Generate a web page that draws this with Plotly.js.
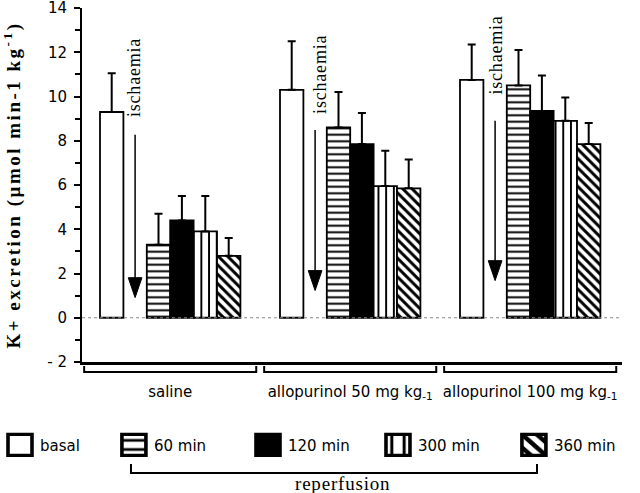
<!DOCTYPE html>
<html><head><meta charset="utf-8">
<script src="https://cdn.plot.ly/plotly-3.0.1.min.js"></script>
<style>
html,body{margin:0;padding:0;background:#fff;}
.ytitle{letter-spacing:2.5px;}
.annotation-text{letter-spacing:0.8px;}
.legendpoints path{transform:translate(20px,0px) scale(2,1.75);}
</style></head><body>
<div id="chart" style="width:640px;height:493px;"></div>
<script>
// ---- data ----
const groups = ['saline', 'allopurinol 50 mg kg<sub>-1</sub>', 'allopurinol 100 mg kg<sub>-1</sub>'];
const seriesNames = ['basal', '60 min', '120 min', '300 min', '360 min'];
const basal = [9.3, 10.3, 10.75];
const basalErr = [1.75, 2.2, 1.6];
const min60 = [3.3, 8.6, 10.5];
const min60Err = [1.4, 1.6, 1.6];
const min120 = [4.4, 7.85, 9.35];
const min120Err = [1.1, 1.4, 1.6];
const min300 = [3.9, 5.95, 8.9];
const min300Err = [1.6, 1.6, 1.05];
const min360 = [2.8, 5.85, 7.85];
const min360Err = [0.8, 1.3, 0.95];
const yTickVals = [-2, 0, 2, 4, 6, 8, 10, 12, 14];
const yTickText = ['- 2', '0', '2', '4', '6', '8', '10', '12', '14'];
const yMinorTicks = [-1, 1, 3, 5, 7, 9, 11, 13];
const ischaemiaLabel = 'ischaemia';
const reperfusionLabel = 'reperfusion';

// ---- styling ----
const slot = 0.13;          // width of one bar slot (category units)
const slotStart = -0.39;    // left edge of first slot
const values = [basal, min60, min120, min300, min360];
const errs = [basalErr, min60Err, min120Err, min300Err, min360Err];
const slotIndex = [0, 2, 3, 4, 5];
const legendIds = ['legend', 'legend2', 'legend3', 'legend4', 'legend5'];
const legendX = [0, 0.178, 0.3875, 0.5906, 0.803];
const styles = [
  {color: 'white', pattern: {shape: ''}},
  {color: 'white', pattern: {shape: '-', bgcolor: 'white', fgcolor: 'black', size: 6.5, solidity: 0.3, fillmode: 'replace'}},
  {color: 'black', pattern: {shape: ''}},
  {color: 'white', pattern: {shape: '|', bgcolor: 'white', fgcolor: 'black', size: 7.7, solidity: 0.25, fillmode: 'replace'}},
  {color: 'white', pattern: {shape: '\\', bgcolor: 'white', fgcolor: 'black', size: 6.6, solidity: 0.45, fillmode: 'replace'}}
];

const traces = seriesNames.map((name, i) => ({
  type: 'bar',
  name: name,
  legend: legendIds[i],
  x: groups,
  y: values[i],
  offset: slotStart + slot * slotIndex[i],
  width: slot,
  marker: {color: styles[i].color, pattern: styles[i].pattern, line: {color: 'black', width: 1.8}},
  error_y: {type: 'data', symmetric: false, array: errs[i], arrayminus: groups.map(() => 0),
            color: 'black', thickness: 2, width: 4},
  hoverinfo: 'skip'
}));

// decorations: ischaemia arrows, text, brackets
const shapes = [];
const annotations = [];
const arrowSpec = [ // [xOffset, yTop, yTip, textX, textY] per group
  [-0.195, 8.27, 0.91, -0.198, 10.86],
  [-0.195, 8.49, 1.23, -0.165, 11.0],
  [-0.195, 8.9, 1.68, -0.19, 11.85]
];
const headHalfW = 0.038, headLen = 0.9;
arrowSpec.forEach((a, g) => {
  const xc = g + a[0];
  shapes.push({type: 'line', xref: 'x', yref: 'y', x0: xc, x1: xc, y0: a[1], y1: a[2] + headLen,
               line: {color: 'black', width: 1.5}});
  shapes.push({type: 'path', xref: 'x', yref: 'y',
               path: `M${xc - headHalfW},${a[2] + headLen} L${xc + headHalfW},${a[2] + headLen} L${xc},${a[2]} Z`,
               fillcolor: 'black', line: {color: 'black', width: 1}});
  annotations.push({xref: 'x', yref: 'y', x: g + a[3], y: a[4], text: ischaemiaLabel, showarrow: false,
                    textangle: -90, xanchor: 'center', yanchor: 'middle',
                    font: {family: 'Liberation Serif, Times New Roman, serif', size: 18, color: 'black'}});
});
groups.forEach((_, g) => {
  const x0 = g - 0.478, x1 = g + 0.478;
  shapes.push({type: 'path', xref: 'x', yref: 'paper',
               path: `M${x0},-0.011 L${x0},-0.028 L${x1},-0.028 L${x1},-0.011`,
               line: {color: 'black', width: 2}});
});
// zero line (dotted)
shapes.push({type: 'line', xref: 'paper', yref: 'y', x0: 0, x1: 1, y0: 0, y1: 0,
             line: {color: '#888', width: 1, dash: 'dot'}});
// reperfusion bracket
shapes.push({type: 'path', xref: 'paper', yref: 'paper',
             path: 'M0.0907,-0.288 L0.0907,-0.3136 L0.8426,-0.3136 L0.8426,-0.288',
             line: {color: 'black', width: 2}});
annotations.push({xref: 'paper', yref: 'paper', x: 0.483, y: -0.342, text: reperfusionLabel, showarrow: false,
                  xanchor: 'center', yanchor: 'middle',
                  font: {family: 'Liberation Serif, Times New Roman, serif', size: 19, color: 'black'}});

const layout = {
  width: 640, height: 493,
  margin: {l: 82, r: 18, t: 8, b: 131},
  paper_bgcolor: 'white', plot_bgcolor: 'white',
  barmode: 'overlay',
  showlegend: true,
  font: {family: 'DejaVu Sans, sans-serif', size: 15, color: 'black'},
  xaxis: {
    type: 'category', range: [-0.49, 2.51], showline: true, linewidth: 2.5, linecolor: 'black',
    ticks: '', showgrid: false, zeroline: false, ticklabelstandoff: 14,
    tickfont: {family: 'DejaVu Sans, sans-serif', size: 15, color: 'black'}
  },
  yaxis: {
    range: [-2, 14], tickmode: 'array', tickvals: yTickVals, ticktext: yTickText,
    ticks: 'outside', ticklen: 6, tickwidth: 2, tickcolor: 'black', ticklabelstandoff: 4,
    ticklabeloverflow: 'allow',
    minor: {tickmode: 'array', tickvals: yMinorTicks, ticks: 'outside', ticklen: 5, tickwidth: 2, tickcolor: 'black', showgrid: false},
    showline: true, linewidth: 2, linecolor: 'black', showgrid: false, zeroline: false,
    tickfont: {family: 'DejaVu Sans, sans-serif', size: 15, color: 'black'},
    title: {text: 'K+ excretion (µmol min-1 kg<sup>-1</sup>)', standoff: 22,
            font: {family: 'Liberation Serif, Times New Roman, serif', size: 19, weight: 'bold', color: 'black'}}
  },
  shapes: shapes,
  annotations: annotations
};
legendIds.forEach((id, i) => {
  layout[id] = {
    orientation: 'h', xref: 'container', yref: 'container', x: legendX[i], y: 0.097,
    xanchor: 'left', yanchor: 'middle',
    font: {family: 'DejaVu Sans, sans-serif', size: 15, color: 'black'},
    bgcolor: 'rgba(0,0,0,0)'
  };
});

Plotly.newPlot('chart', traces, layout, {displayModeBar: false, staticPlot: true});
</script></body></html>
